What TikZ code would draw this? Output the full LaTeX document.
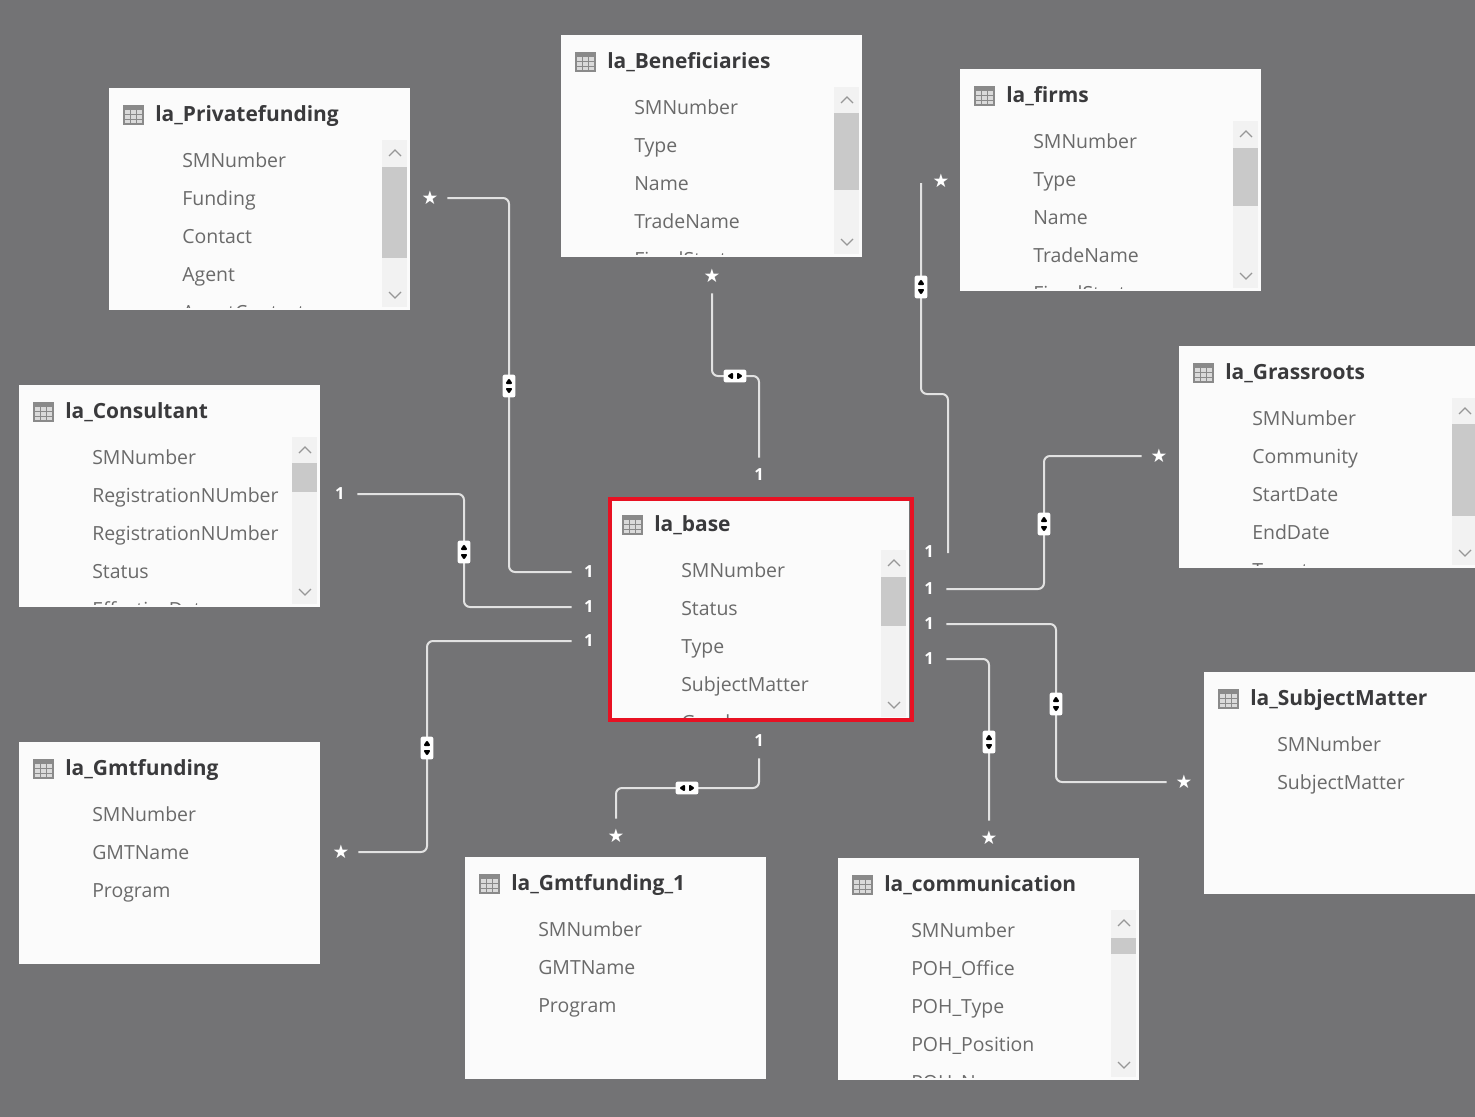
\documentclass[tikz,border=0pt]{standalone}
\usepackage{fontspec}
\setmainfont{Open Sans}
\definecolor{pagegrey}{HTML}{737375}
\definecolor{cardwhite}{HTML}{FBFBFB}
\definecolor{fieldgrey}{HTML}{6A6A6A}
\definecolor{titlegrey}{HTML}{3A3A3C}
\definecolor{trackgrey}{HTML}{F2F2F2}
\definecolor{thumbgrey}{HTML}{C9C9C9}
\definecolor{iconfill}{HTML}{DADADA}
\definecolor{iconline}{HTML}{8A8A8A}
\definecolor{linkline}{HTML}{E2E2E2}
\definecolor{basered}{HTML}{E81123}
\pgfdeclarelayer{conn}
\pgfdeclarelayer{back}
\pgfsetlayers{back,conn,main}
\tikzset{
  tablecard/.style={rectangle,anchor=north west,inner sep=0pt,fill=cardwhite,minimum width=225.2pt,minimum height=166pt},
  titletext/.style={anchor=base west,inner sep=0pt,text=titlegrey,font=\fontsize{15.7pt}{18pt}\selectfont\bfseries},
  fieldtext/.style={anchor=base west,inner sep=0pt,text=fieldgrey,font=\fontsize{14.6pt}{17pt}\selectfont},
  endlabel/.style={rectangle,inner sep=0pt,minimum size=25.5pt,text=white},
  onelabel/.style={endlabel,font=\fontsize{12.5pt}{14pt}\selectfont\bfseries},
  starlabel/.style={endlabel,font=\fontsize{14pt}{16pt}\selectfont},
  link/.style={draw=linkline,line width=1.5pt,rounded corners=4.5pt},
  hmark/.style={rectangle,inner sep=0pt,fill=white,rounded corners=1.5pt,minimum width=17pt,minimum height=9.5pt,
    path picture={\fill[black,shift={(path picture bounding box.center)}] (-8,0)--(-2,-3.8)--(-2,3.8)--cycle (8,0)--(2,-3.8)--(2,3.8)--cycle;}},
  vmark/.style={rectangle,inner sep=0pt,fill=white,rounded corners=1.5pt,minimum width=9.5pt,minimum height=17pt,
    path picture={\fill[black,shift={(path picture bounding box.center)}] (0,-8)--(-3.8,-2)--(3.8,-2)--cycle (0,8)--(-3.8,2)--(3.8,2)--cycle;}},
}
\newfontfamily\symfont{DejaVu Sans}
\newcommand{\starmark}{{\symfont ★}}
% id, x, y, card options, title, fields
\newcommand{\dbtable}[6]{%
  \node[tablecard,#4] (#1) at (#2,#3) {};
  \fill[iconfill] ({#2+15},{#3+18}) rectangle ({#2+34},{#3+36});
  \fill[iconline] ({#2+15},{#3+18}) rectangle ({#2+34},{#3+22});
  \foreach \gx in {21.3,27.6} \draw[iconline,line width=0.5pt] ({#2+\gx},{#3+18}) -- ({#2+\gx},{#3+36});
  \foreach \gy in {26.7,31.3} \draw[iconline,line width=0.5pt] ({#2+15},{#3+\gy}) -- ({#2+34},{#3+\gy});
  \draw[iconline,line width=0.8pt] ({#2+15},{#3+18}) rectangle ({#2+34},{#3+36});
  \node[titletext] at ({#2+46},{#3+33}) {#5};
  \begin{scope}
    \clip ({#2+1},{#3+1}) rectangle ({#2+299},{#3+219});
    \foreach \fname [count=\fidx] in {#6} {
      \node[fieldtext] at ({#2+73},{#3+79+38*(\fidx-1)}) {\fname};
    }
  \end{scope}
}
% x, y, thumb start, thumb end
\newcommand{\scrollbar}[4]{%
  \fill[trackgrey] ({#1+273},{#2+52}) rectangle ({#1+298},{#2+219});
  \fill[thumbgrey] ({#1+273},{#2+#3}) rectangle ({#1+298},{#2+#4});
  \draw[fieldgrey!70,line width=1pt] ({#1+280},{#2+68}) -- ({#1+286},{#2+62}) -- ({#1+292},{#2+68});
  \draw[fieldgrey!70,line width=1pt] ({#1+280},{#2+204}) -- ({#1+286},{#2+210}) -- ({#1+292},{#2+204});
}
\begin{document}
\begin{tikzpicture}[x=0.75pt,y=-0.75pt]
\useasboundingbox (0,0) rectangle (1475,1117);
\begin{pgfonlayer}{back}
  \fill[pagegrey] (0,0) rectangle (1475,1117);
\end{pgfonlayer}

\dbtable{priv}{109}{88}{}{la\_Privatefunding}{SMNumber,Funding,Contact,Agent,AgentContact}
\scrollbar{109}{88}{79}{170}
\dbtable{benef}{561}{35}{}{la\_Beneficiaries}{SMNumber,Type,Name,TradeName,FiscalStart}
\scrollbar{561}{35}{78}{155}
\dbtable{firms}{960}{69}{}{la\_firms}{SMNumber,Type,Name,TradeName,FiscalStart}
\scrollbar{960}{69}{79}{137}
\dbtable{grass}{1179}{346}{}{la\_Grassroots}{SMNumber,Community,StartDate,EndDate,Target}
\scrollbar{1179}{346}{78}{170}
\dbtable{consult}{19}{385}{}{la\_Consultant}{SMNumber,RegistrationNUmber,RegistrationNUmber,Status,EffectiveDate}
\scrollbar{19}{385}{78}{107}
\dbtable{gmt}{19}{742}{}{la\_Gmtfunding}{SMNumber,GMTName,Program}
\dbtable{gmtone}{465}{857}{}{la\_Gmtfunding\_1}{SMNumber,GMTName,Program}
\dbtable{comm}{838}{858}{}{la\_communication}{SMNumber,POH\_Office,POH\_Type,POH\_Position,POH\_Name}
\scrollbar{838}{858}{80}{96}
\dbtable{subj}{1204}{672}{}{la\_SubjectMatter}{SMNumber,SubjectMatter}
\dbtable{base}{608}{498}{}{la\_base}{SMNumber,Status,Type,SubjectMatter,Gender}
\scrollbar{608}{498}{79}{128}
\node[rectangle,anchor=north west,inner sep=0pt,draw=basered,line width=3pt,minimum width=226.5pt,minimum height=165.75pt] (baseframe) at (608,497) {};

% end labels
\node[starlabel] (s1) at (430,198) {\starmark};
\node[onelabel] (o1) at (589,572) {1};
\node[onelabel] (o2a) at (340,494) {1};
\node[onelabel] (o2b) at (589,607) {1};
\node[starlabel] (s3) at (341,852) {\starmark};
\node[onelabel] (o3) at (589,641) {1};
\node[starlabel] (s4) at (712,276) {\starmark};
\node[onelabel] (o4) at (759,475) {1};
\node[starlabel] (s5) at (941,181) {\starmark};
\node[onelabel] (o5) at (929,552) {1};
\node[starlabel] (s6) at (1159,456) {\starmark};
\node[onelabel] (o6) at (929,589) {1};
\node[starlabel] (s7) at (1184,782) {\starmark};
\node[onelabel] (o7) at (929,624) {1};
\node[starlabel] (s8) at (989,838) {\starmark};
\node[onelabel] (o8) at (929,659) {1};
\node[starlabel] (s9) at (616,836) {\starmark};
\node[onelabel] (o9) at (759,741) {1};

% cross-filter markers
\node[vmark] (m1) at (509,386) {};
\node[vmark] (m2) at (464,552) {};
\node[vmark] (m3) at (427,748) {};
\node[hmark] (m4) at (735,376) {};
\node[vmark] (m5) at (921,287) {};
\node[vmark] (m6) at (1044,524) {};
\node[vmark] (m7) at (1056,704) {};
\node[vmark] (m8) at (989,742) {};
\node[hmark] (m9) at (687,788) {};

% free ends of the firms connector
\coordinate (f1) at (921,183);
\coordinate (f2) at (948,394);
\coordinate (f3) at (948,553);

\begin{pgfonlayer}{conn}
  \draw[link] (s1.east) -| (m1.center) |- (o1.west);
  \draw[link] (o2a.east) -| (m2.center) |- (o2b.west);
  \draw[link] (s3.east) -| (m3.center) |- (o3.west);
  \draw[link] (s4.south) |- (m4.center) -| (o4.north);
  \draw[link] (f1) |- (f2) -- (f3);
  \draw[link] (s6.west) -| (m6.center) |- (o6.east);
  \draw[link] (s7.west) -| (m7.center) |- (o7.east);
  \draw[link] (s8.north) |- (o8.east);
  \draw[link] (s9.north) |- (m9.center) -| (o9.south);
\end{pgfonlayer}
\end{tikzpicture}
\end{document}
